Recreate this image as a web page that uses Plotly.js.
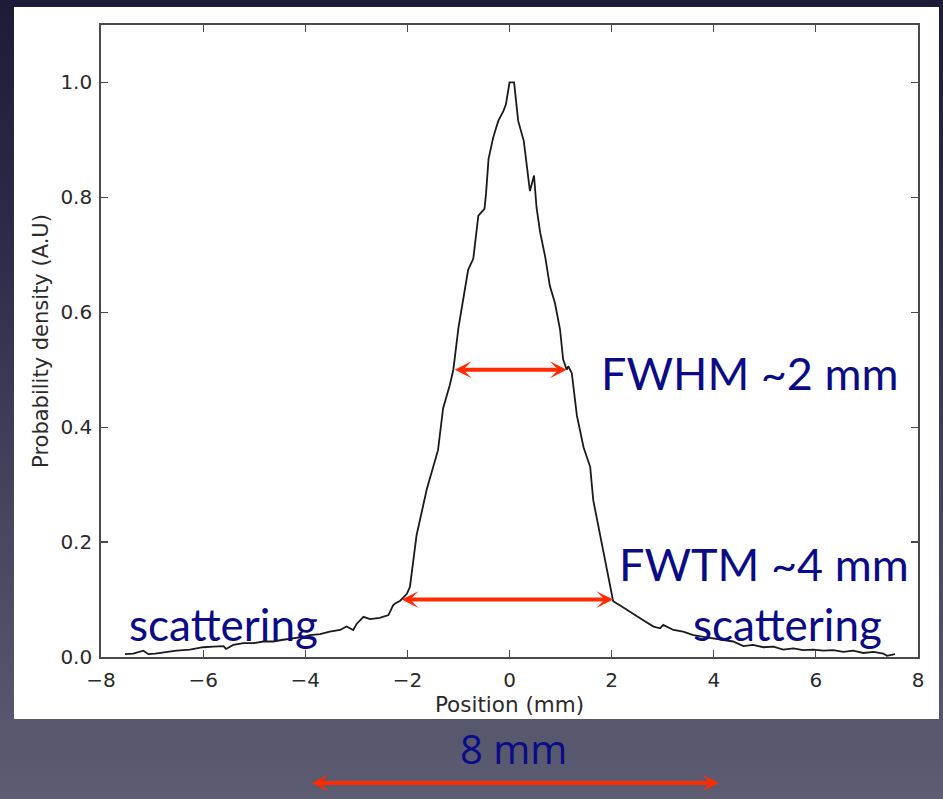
<!DOCTYPE html>
<html>
<head>
<meta charset="utf-8">
<script src="https://cdn.plot.ly/plotly-3.0.1.min.js"></script>
<style>
  html, body { margin: 0; padding: 0; }
  body {
    width: 943px; height: 799px; overflow: hidden;
    background: linear-gradient(to bottom, #1c1c36 0%, #2c2c48 30%, #46465f 65%, #5c5c73 100%);
  }
  #chart { width: 943px; height: 799px; }
</style>
</head>
<body>
<div id="chart"></div>
<script>
// Measured line-spread profile: position (mm) vs. normalised probability density
const positionMm = [
  -7.53, -7.37, -7.17, -7.07, -6.94, -6.71, -6.52, -6.26, -6.00, -5.80,
  -5.60, -5.55, -5.41, -5.21, -5.02, -4.82, -4.63, -4.43, -4.23, -4.04,
  -3.91, -3.71, -3.52, -3.32, -3.19, -3.06, -2.99, -2.86, -2.73, -2.54,
  -2.37, -2.28, -2.24, -2.14, -2.01, -1.95, -1.82, -1.62, -1.40, -1.30,
  -1.17, -1.10, -1.00, -0.81, -0.71, -0.61, -0.49, -0.46, -0.41, -0.32,
  -0.22, -0.12, -0.07, 0.00, 0.09, 0.17, 0.28, 0.40, 0.48, 0.53,
  0.60, 0.70, 0.79, 0.89, 0.99, 1.05, 1.12, 1.15, 1.22, 1.32,
  1.45, 1.58, 1.64, 1.77, 1.87, 1.97, 2.03, 2.16, 2.30, 2.49,
  2.62, 2.82, 2.95, 3.01, 3.21, 3.40, 3.60, 3.80, 3.99, 4.19,
  4.38, 4.58, 4.77, 4.97, 5.17, 5.36, 5.56, 5.75, 5.95, 6.15,
  6.34, 6.54, 6.73, 6.93, 7.13, 7.32, 7.39, 7.55
];
const density = [
  0.005, 0.006, 0.011, 0.005, 0.006, 0.009, 0.011, 0.013, 0.017, 0.018,
  0.019, 0.014, 0.021, 0.024, 0.024, 0.027, 0.027, 0.030, 0.032, 0.035,
  0.038, 0.040, 0.044, 0.047, 0.053, 0.047, 0.058, 0.070, 0.066, 0.068,
  0.073, 0.090, 0.093, 0.098, 0.110, 0.122, 0.212, 0.292, 0.360, 0.433,
  0.473, 0.500, 0.573, 0.674, 0.693, 0.768, 0.780, 0.806, 0.867, 0.904,
  0.933, 0.950, 0.962, 1.000, 1.000, 0.933, 0.898, 0.811, 0.838, 0.782,
  0.739, 0.696, 0.646, 0.616, 0.570, 0.518, 0.500, 0.506, 0.494, 0.420,
  0.365, 0.331, 0.273, 0.215, 0.169, 0.125, 0.097, 0.090, 0.082, 0.070,
  0.064, 0.053, 0.050, 0.056, 0.047, 0.044, 0.038, 0.035, 0.032, 0.030,
  0.027, 0.019, 0.021, 0.017, 0.018, 0.013, 0.015, 0.012, 0.013, 0.011,
  0.012, 0.009, 0.011, 0.007, 0.009, 0.006, 0.002, 0.005
];

// Axis ticks
const xTickVals = [-8, -6, -4, -2, 0, 2, 4, 6, 8];
const xTickText = ['\u22128', '\u22126', '\u22124', '\u22122', '0', '2', '4', '6', '8'];
const yTickVals = [0, 0.2, 0.4, 0.6, 0.8, 1.0];

// Width markers: [left edge, right edge, level]
const fwhm = [-1.10, 1.12, 0.5];
const fwtm = [-2.14, 2.03, 0.1];
const scaleBar = [-3.9, 4.1];

// Labels
const fwhmLabel = 'FWHM ~2 mm';
const fwtmLabel = 'FWTM ~4 mm';
const tailLabel = 'scattering';
const scaleLabel = '8 mm';

const navy = '#0b0b85';
const red = '#ff2a00';
const labelFont = { family: 'Lato, "Open Sans", sans-serif', size: 45, color: navy };
const tailFont = { family: 'Lato, "Open Sans", sans-serif', size: 44, color: navy };

function doubleArrow(x0, x1, y, yref) {
  return {
    xref: 'x', yref: yref, axref: 'x', ayref: yref,
    x: x1, y: y, ax: x0, ay: y,
    text: '', showarrow: true,
    arrowhead: 3, startarrowhead: 3, arrowside: 'end+start',
    arrowsize: 0.7, startarrowsize: 0.7,
    arrowwidth: 4, arrowcolor: red,
    standoff: 0, startstandoff: 0
  };
}

const trace = {
  x: positionMm, y: density,
  type: 'scatter', mode: 'lines',
  line: { color: '#1a1a1a', width: 1.8 },
  hoverinfo: 'skip'
};

const axisCommon = {
  showgrid: false, zeroline: false,
  showline: true, linecolor: '#4a4a4a', linewidth: 1.8, mirror: 'ticks',
  ticks: 'inside', ticklen: 7, tickwidth: 1.2, tickcolor: '#4a4a4a',
  tickfont: { family: '"DejaVu Sans", sans-serif', size: 20, color: '#2a2a2a' }
};

const layout = {
  width: 943, height: 799,
  margin: { l: 101, r: 25, t: 25, b: 142 },
  paper_bgcolor: 'rgba(0,0,0,0)',
  plot_bgcolor: '#ffffff',
  showlegend: false,
  xaxis: Object.assign({}, axisCommon, {
    range: [-8, 8],
    tickvals: xTickVals, ticktext: xTickText,
    ticklabelstandoff: 4,
    title: { text: 'Position (mm)', standoff: 2,
             font: { family: '"DejaVu Sans", sans-serif', size: 21.5, color: '#2a2a2a' } }
  }),
  yaxis: Object.assign({}, axisCommon, {
    range: [0, 1.1],
    tickvals: yTickVals, tickformat: '.1f',
    ticklabelstandoff: 3,
    title: { text: 'Probability density (A.U)', standoff: 6,
             font: { family: '"DejaVu Sans", sans-serif', size: 21, color: '#2a2a2a' } }
  }),
  shapes: [
    // white figure panel
    { type: 'rect', xref: 'paper', yref: 'paper', layer: 'below',
      x0: -0.1065, x1: 1.0257, y0: -0.0981, y1: 1.0285,
      fillcolor: '#ffffff', line: { width: 0 } }
  ],
  annotations: [
    doubleArrow(fwhm[0], fwhm[1], fwhm[2], 'y'),
    doubleArrow(fwtm[0], fwtm[1], fwtm[2], 'y'),
    doubleArrow(scaleBar[0], scaleBar[1], -0.1994, 'paper'),
    { xref: 'x', yref: 'y', x: 1.75, y: 0.495, text: fwhmLabel, showarrow: false,
      xanchor: 'left', yanchor: 'middle', font: labelFont },
    { xref: 'x', yref: 'y', x: 2.1, y: 0.162, text: fwtmLabel, showarrow: false,
      xanchor: 'left', yanchor: 'middle', font: labelFont },
    { xref: 'x', yref: 'y', x: -7.5, y: 0.058, text: tailLabel, showarrow: false,
      xanchor: 'left', yanchor: 'middle', font: tailFont },
    { xref: 'x', yref: 'y', x: 3.55, y: 0.058, text: tailLabel, showarrow: false,
      xanchor: 'left', yanchor: 'middle', font: tailFont },
    { xref: 'x', yref: 'paper', x: 0.07, y: -0.145, text: scaleLabel, showarrow: false,
      xanchor: 'center', yanchor: 'middle',
      font: { family: '"Open Sans", sans-serif', size: 40, color: navy } }
  ]
};

Plotly.newPlot('chart', [trace], layout, { displayModeBar: false, staticPlot: true });
</script>
</body>
</html>
